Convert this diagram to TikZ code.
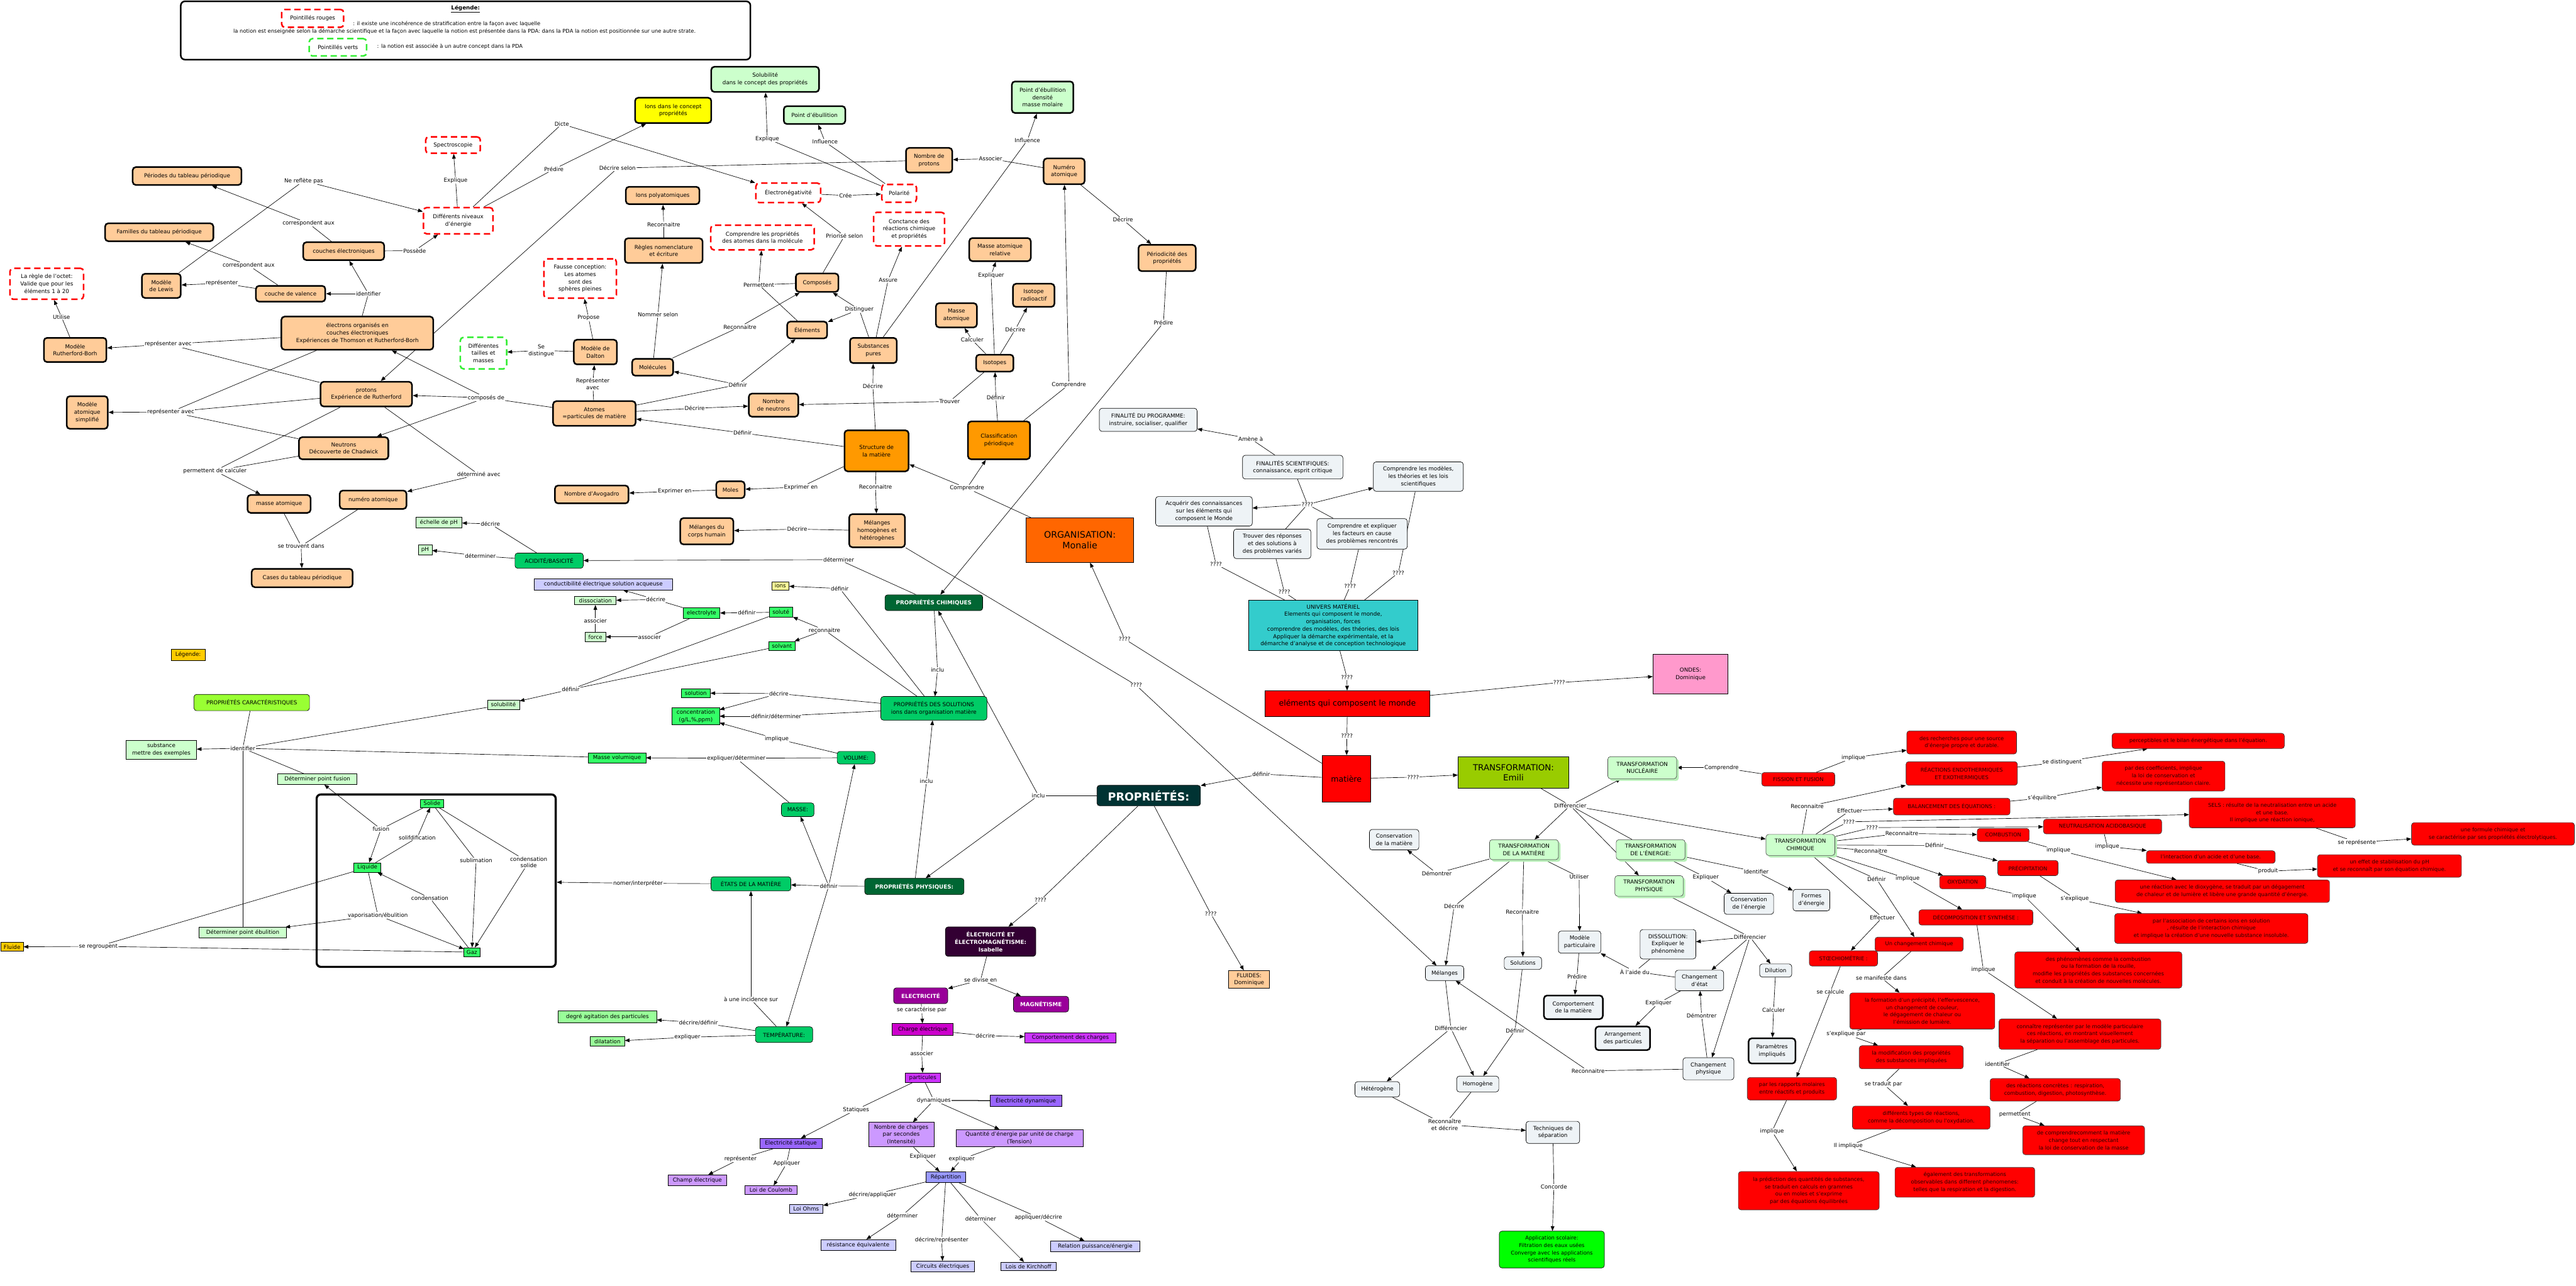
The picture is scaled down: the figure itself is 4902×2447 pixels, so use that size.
\documentclass[tikz,border=0pt]{standalone}
\usepackage{fontspec}
\setmainfont{DejaVu Sans}
\usetikzlibrary{arrows.meta,shadows}
\definecolor{peach}{HTML}{FFCC99}
\definecolor{orangeS}{HTML}{FF9900}
\definecolor{orgc}{HTML}{FF6600}
\definecolor{lgreen}{HTML}{CCFFCC}
\definecolor{shadg}{HTML}{B8F0B8}
\definecolor{vgreen}{HTML}{33FF66}
\definecolor{mgreen}{HTML}{99FF99}
\definecolor{grc}{HTML}{00CC66}
\definecolor{dkg}{HTML}{006633}
\definecolor{propc}{HTML}{003333}
\definecolor{limec}{HTML}{99FF33}
\definecolor{goldc}{HTML}{FFCC00}
\definecolor{yelc}{HTML}{FFFF00}
\definecolor{pyel}{HTML}{FFFF99}
\definecolor{lav}{HTML}{CCCCFF}
\definecolor{tealc}{HTML}{33CCCC}
\definecolor{pinkc}{HTML}{FF99CC}
\definecolor{redc}{HTML}{FF0000}
\definecolor{olivec}{HTML}{99CC00}
\definecolor{grayb}{HTML}{EEF3F6}
\definecolor{appg}{HTML}{00FF00}
\definecolor{elemc}{HTML}{330033}
\definecolor{magc}{HTML}{990099}
\definecolor{chgc}{HTML}{CC00CC}
\definecolor{purpc}{HTML}{CC33FF}
\definecolor{violc}{HTML}{9966FF}
\definecolor{lilac}{HTML}{CC99FF}
\definecolor{peric}{HTML}{9999FF}
\definecolor{dashg}{HTML}{33EE33}
\pgfdeclarelayer{bg}
\pgfsetlayers{bg,main}
\tikzset{
 every node/.style={align=center,font=\fontsize{10.5}{14}\selectfont,inner sep=1.5pt},
 bx/.style 2 args={minimum width=#1,minimum height=#2},
 con/.style={draw=black,line width=3pt,rounded corners=6pt,fill=peach},
 conS/.style={draw=black,line width=3pt,rounded corners=6pt,fill=orangeS},
 rdash/.style={draw=redc,line width=3pt,dash pattern=on 12pt off 7pt,rounded corners=6pt,fill=white},
 gdash/.style={draw=dashg,line width=3pt,dash pattern=on 12pt off 7pt,rounded corners=6pt,fill=white},
 lgk/.style={draw=black,line width=3pt,rounded corners=6pt,fill=lgreen},
 yelk/.style={draw=black,line width=3pt,rounded corners=6pt,fill=yelc},
 sq/.style={draw=black,line width=0.8pt,fill=#1},
 rnd/.style={draw=black,line width=0.8pt,rounded corners=5pt,fill=#1},
 gr/.style={rnd=grc},
 dkgn/.style={rnd=dkg,text=white,font=\bfseries\fontsize{10.5}{14}\selectfont},
 gbx/.style={rnd=grayb},
 gbxk/.style={draw=black,line width=3pt,rounded corners=6pt,fill=grayb},
 tlg/.style={draw=black!70,line width=0.8pt,rounded corners=5pt,fill=lgreen,drop shadow={shadow xshift=4pt,shadow yshift=-4pt,fill=shadg,opacity=1}},
 redb/.style={draw=black!80,line width=0.8pt,rounded corners=5pt,fill=redc,text=black!85!red,font=\fontsize{10}{14}\selectfont},
 magb/.style={rnd=magc,text=white,font=\bfseries\fontsize{10.5}{14}\selectfont},
 lab/.style={fill=white,inner sep=1pt,font=\fontsize{10.5}{13}\selectfont},
 ln/.style={line width=0.8pt},
 ar/.style={line width=0.8pt,-{Triangle[length=9pt,width=7pt]}},
}
\begin{document}
\begin{tikzpicture}[x=1pt,y=-1pt]
\useasboundingbox (0,0) rectangle (4902,2447);

% ---------------- Legend
\node[draw,line width=3pt,rounded corners=8pt,bx={1084}{111},inner sep=0pt] (legbox) at (886,58) {};
\node[font=\bfseries\fontsize{10.5}{13}\selectfont] (legt) at (886,17) {\underline{Légende:}};
\node[rdash,bx={118}{34}] (legr) at (595,35) {Pointillés rouges};
\node[anchor=west,font=\fontsize{10}{13}\selectfont] (legl1) at (670,46) {: il existe une incohérence de stratification entre la façon avec laquelle};
\node[font=\fontsize{10}{13}\selectfont] (legl2) at (884,60) {la notion est enseignée selon la démarche scientifique et la façon avec laquelle la notion est présentée dans la PDA: dans la PDA la notion est positionnée sur une autre strate.};
\node[gdash,bx={109}{33}] (legv) at (643,90) {Pointillés verts};
\node[anchor=west,font=\fontsize{10}{13}\selectfont] (legl3) at (716,89) {: la notion est associée à un autre concept dans la PDA};

% ---------------- Atom cluster (left top)
\node[rdash,bx={104}{31}] (spec) at (862,276) {Spectroscopie};
\node[con,bx={207}{34}] (per) at (356,335) {Périodes du tableau périodique};
\node[rdash,bx={132}{50}] (dne) at (872,420) {Différents niveaux\\d'énergie};
\node[con,bx={206}{34}] (fam) at (303,442) {Familles du tableau périodique};
\node[con,bx={154}{34}] (cel) at (654,478) {couches électroniques};
\node[rdash,bx={140}{59}] (oct) at (89,540) {La règle de l'octet:\\Valide que pour les\\éléments 1 à 20};
\node[con,bx={74}{46}] (lew) at (307,544) {Modèle\\de Lewis};
\node[con,bx={132}{30}] (val) at (553,559) {couche de valence};
\node[con,bx={289}{63}] (eor) at (680,634) {électrons organisés en\\couches électroniques\\Expériences de Thomson et Rutherford-Borh};
\node[con,bx={119}{46}] (mrb) at (143,666) {Modèle\\Rutherford-Borh};
\node[gdash,bx={88}{60}] (dtm) at (920,672) {Différentes\\tailles et\\masses};
\node[con,bx={174}{47}] (pro) at (697,750) {protons\\Expérience de Rutherford};
\node[con,bx={78}{62}] (mas) at (166,785) {Modèle\\atomique\\simplifié};
\node[con,bx={170}{42}] (neu) at (654,853) {Neutrons\\Découverte de Chadwick};
\node[con,bx={120}{34}] (mat) at (531,959) {masse atomique};
\node[con,bx={127}{35}] (nat) at (710,951) {numéro atomique};
\node[con,bx={192}{35}] (cas) at (575,1100) {Cases du tableau périodique};

\node[lab] (l_expl1) at (867,343) {Explique};
\node[lab] (l_nrp) at (578,344) {Ne reflète pas};
\node[lab] (l_corr1) at (587,425) {correspondent aux};
\node[lab] (l_poss) at (789,477) {Possède};
\node[lab] (l_corr2) at (473,505) {correspondent aux};
\node[lab] (l_repr) at (422,539) {représenter};
\node[lab] (l_ident) at (701,559) {identifier};
\node[lab] (l_util) at (117,603) {Utilise};
\node[lab] (l_ravec1) at (320,655) {représenter avec};
\node[lab] (l_compde) at (925,757) {composés de};
\node[lab] (l_ravec2) at (325,784) {représenter avec};
\node[lab] (l_pdc) at (409,896) {permettent de calculer};
\node[lab] (l_detav) at (911,903) {déterminé avec};
\node[lab] (l_stdans) at (573,1039) {se trouvent dans};

% ---------------- Middle top
\node[lgk,bx={205}{48}] (solub) at (1456,151) {Solubilité\\dans le concept des propriétés};
\node[yelk,bx={145}{48}] (ions1) at (1281,210) {Ions dans le concept\\propriétés};
\node[lgk,bx={117}{34}] (pe) at (1550,219) {Point d'ébullition};
\node[lgk,bx={117}{60}] (ped) at (1984,185) {Point d'ébullition\\densité\\masse molaire};
\node[con,bx={88}{47}] (nbp) at (1768,305) {Nombre de\\protons};
\node[con,bx={78}{49}] (numat) at (2025,326) {Numéro\\atomique};
\node[con,bx={140}{33}] (ipoly) at (1261,372) {Ions polyatomiques};
\node[rdash,bx={123}{37}] (eneg) at (1500,367) {Électronégativité};
\node[rdash,bx={66}{34}] (pol) at (1711,368) {Polarité};
\node[rdash,bx={197}{47}] (cpam) at (1451,452) {Comprendre les propriétés\\des atomes dans la molécule};
\node[rdash,bx={135}{64}] (conct) at (1730,436) {Conctance des\\réactions chimique\\et propriétés};
\node[con,bx={148}{47}] (regles) at (1263,477) {Règles nomenclature\\et écriture};
\node[con,bx={117}{44}] (mar) at (1903,475) {Masse atomique\\relative};
\node[rdash,bx={138}{75}] (fc) at (1104,530) {Fausse conception:\\Les atomes\\sont des\\sphères pleines};
\node[con,bx={79}{44}] (irad) at (1967,562) {Isotope\\radioactif};
\node[con,bx={81}{35}] (comp) at (1555,538) {Composés};
\node[con,bx={78}{46}] (mato) at (1820,600) {Masse\\atomique};
\node[con,bx={76}{32}] (elem) at (1536,628) {Éléments};
\node[con,bx={89}{48}] (spure) at (1662,667) {Substances\\pures};
\node[con,bx={71}{32}] (isot) at (1893,691) {Isotopes};
\node[con,bx={82}{47}] (dalton) at (1133,670) {Modèle de\\Dalton};
\node[con,bx={78}{32}] (molec) at (1242,699) {Molécules};
\node[con,bx={157}{47}] (atomes) at (1131,787) {Atomes\\=particules de matière};
\node[con,bx={94}{44}] (nbn) at (1472,771) {Nombre\\de neutrons};
\node[conS,bx={122}{78}] (struct) at (1668,858) {Structure de\\la matière};
\node[conS,bx={118}{72}] (classif) at (1901,838) {Classification\\périodique};
\node[con,bx={109}{50}] (period) at (2221,491) {Périodicité des\\propriétés};

\node[lab] (l_dicte) at (1069,236) {Dicte};
\node[lab] (l_predire1) at (1054,322) {Prédire};
\node[lab] (l_decsel) at (1175,320) {Décrire selon};
\node[lab] (l_expl2) at (1460,264) {Explique};
\node[lab] (l_infl1) at (1570,270) {Influence};
\node[lab] (l_assoc) at (1885,302) {Associer};
\node[lab] (l_infl2) at (1955,267) {Influence};
\node[lab] (l_cree) at (1609,372) {Crée};
\node[lab] (l_reco1) at (1263,427) {Reconnaitre};
\node[lab] (l_prio) at (1607,449) {Priorisé selon};
\node[lab] (l_perm) at (1444,542) {Permettent};
\node[lab] (l_assure) at (1690,533) {Assure};
\node[lab] (l_expl3) at (1886,524) {Expliquer};
\node[lab] (l_nommer) at (1252,599) {Nommer selon};
\node[lab] (l_dist) at (1635,589) {Distinguer};
\node[lab] (l_reco2) at (1408,622) {Reconnaitre};
\node[lab] (l_calc) at (1850,647) {Calculer};
\node[lab] (l_decr1) at (1932,627) {Décrire};
\node[lab] (l_propose) at (1120,605) {Propose};
\node[lab] (l_sedist) at (1030,667) {Se\\distingue};
\node[lab] (l_repavec) at (1128,731) {Représenter\\avec};
\node[lab] (l_def1) at (1404,732) {Définir};
\node[lab] (l_decr2) at (1322,777) {Décrire};
\node[lab] (l_decr3) at (1661,735) {Décrire};
\node[lab] (l_trouver) at (1807,764) {Trouver};
\node[lab] (l_def2) at (1895,757) {Définir};
\node[lab] (l_compr1) at (2034,732) {Comprendre};
\node[lab] (l_def3) at (1413,824) {Définir};
\node[lab] (l_decr4) at (2137,418) {Décrire};
\node[lab] (l_predire2) at (2214,614) {Prédire};

% ---------------- Middle
\node[con,bx={54}{32}] (moles) at (1390,932) {Moles};
\node[con,bx={140}{34}] (avog) at (1126,941) {Nombre d'Avogadro};
\node[con,bx={106}{63}] (mhh) at (1669,1010) {Mélanges\\homogènes et\\hétérogènes};
\node[con,bx={101}{50}] (mch) at (1345,1011) {Mélanges du\\corps humain};
\node[sq=orgc,bx={205}{85},font=\fontsize{17}{21}\selectfont] (org) at (2055,1028) {ORGANISATION:\\Monalie};
\node[sq=lav,bx={263}{21}] (cond) at (1148,1112) {conductibilité électrique solution acqueuse};
\node[sq=lgreen,bx={79}{16}] (dissoc) at (1133,1143) {dissociation};
\node[sq=vgreen,bx={70}{20}] (electro) at (1335,1167) {electrolyte};
\node[sq=vgreen,bx={45}{19}] (solute) at (1486,1165) {soluté};
\node[sq=lgreen,bx={39}{17}] (force) at (1133,1212) {force};
\node[sq=vgreen,bx={51}{17}] (solvant) at (1488,1229) {solvant};
\node[sq=pyel,bx={33}{16}] (ions2) at (1485,1115) {ions};
\node[dkgn,bx={186}{30}] (pchim) at (1777,1147) {PROPRIÉTÉS CHIMIQUES};
\node[sq=vgreen,bx={55}{17}] (solution) at (1324,1319) {solution};
\node[sq=vgreen,bx={90}{33}] (concent) at (1324,1363) {concentration\\(g/L,\%,ppm)};
\node[gr,bx={202}{45}] (psol) at (1777,1348) {PROPRIÉTÉS DES SOLUTIONS\\ions dans organisation matière};
\node[sq=vgreen,bx={110}{19}] (mvol) at (1174,1442) {Masse volumique};
\node[gr,bx={72}{24}] (volume) at (1629,1442) {VOLUME:};
\node[gr,bx={130}{29}] (acid) at (1045,1067) {ACIDITÉ/BASICITÉ};
\node[sq=lgreen,bx={88}{20}] (echph) at (835,994) {échelle de pH};
\node[sq=lgreen,bx={26}{19}] (ph) at (809,1046) {pH};

\node[lab] (l_expen1) at (1524,927) {Exprimer en};
\node[lab] (l_expen2) at (1284,935) {Exprimer en};
\node[lab] (l_reco3) at (1666,927) {Reconnaitre};
\node[lab] (l_compr2) at (1840,929) {Comprendre};
\node[lab] (l_decr5) at (1517,1007) {Décrire};
\node[lab] (l_det1) at (1596,1065) {déterminer};
\node[lab] (l_def4) at (1598,1120) {définir};
\node[lab] (l_decr6) at (1248,1141) {décrire};
\node[lab] (l_def5) at (1421,1166) {définir};
\node[lab] (l_assoc2) at (1133,1182) {associer};
\node[lab] (l_assoc3) at (1236,1212) {associer};
\node[lab] (l_reco4) at (1569,1199) {reconnaitre};
\node[lab] (l_def6) at (1086,1312) {définir};
\node[lab] (l_decr7) at (1482,1320) {décrire};
\node[lab] (l_defdet) at (1477,1363) {définir/déterminer};
\node[lab] (l_impl1) at (1478,1406) {implique};
\node[lab] (l_expdet) at (1401,1443) {expliquer/déterminer};
\node[lab] (l_inclu1) at (1784,1275) {inclu};
\node[lab] (l_decr8) at (933,997) {décrire};
\node[lab] (l_det2) at (914,1058) {déterminer};

% ---------------- Left lower: properties, states box
\node[draw,line width=4pt,rounded corners=8pt,bx={455}{328},inner sep=0pt] (bigbox) at (830,1676) {};
\node[sq=vgreen,bx={45}{16}] (solide) at (822,1529) {Solide};
\node[sq=vgreen,bx={52}{18}] (liquide) at (699,1651) {Liquide};
\node[sq=vgreen,bx={30}{17}] (gaz) at (898,1812) {Gaz};
\node[sq=lgreen,bx={167}{20}] (dpe) at (462,1775) {Déterminer point ébulition};
\node[sq=lgreen,bx={151}{20}] (dpf) at (604,1483) {Déterminer point fusion};
\node[sq=goldc,bx={43}{17}] (fluide) at (23,1802) {Fluide};
\node[sq=lgreen,bx={134}{35}] (subst) at (307,1427) {substance\\mettre des exemples};
\node[rnd=limec,bx={220}{31}] (pcar) at (479,1337) {PROPRIÉTÉS CARACTÉRISTIQUES};
\node[sq=lgreen,bx={61}{18}] (solubilite) at (958,1341) {solubilité};
\node[sq=goldc,bx={65}{22}] (legende2) at (358,1246) {Légende:};

\node[lab] (l_fusion) at (725,1578) {fusion};
\node[lab] (l_solid) at (794,1594) {solifdification};
\node[lab] (l_subl) at (906,1638) {sublimation};
\node[lab] (l_condsol) at (1006,1641) {condensation\\solide};
\node[lab] (l_cond) at (818,1709) {condensation};
\node[lab] (l_vapo) at (719,1742) {vaporisation/ébulition};
\node[lab] (l_regr) at (187,1801) {se regroupent};
\node[lab] (l_identif) at (462,1424) {identifier};

% ---------------- Physical properties
\node[gr,bx={62}{26}] (masse) at (1518,1541) {MASSE:};
\node[gr,bx={152}{27}] (etats) at (1429,1682) {ÉTATS DE LA MATIÈRE};
\node[dkgn,bx={189}{31}] (pphys) at (1740,1687) {PROPRIÉTÉS PHYSIQUES:};
\node[rnd=propc,bx={197}{39},text=white,font=\bfseries\fontsize{21}{24}\selectfont] (props) at (2186,1514) {PROPRIÉTÉS:};
\node[rnd=elemc,bx={172}{56},text=white,font=\bfseries\fontsize{10.5}{14}\selectfont] (elecem) at (1885,1792) {ÉLECTRICITÉ ET\\ÉLECTROMAGNÉTISME:\\Isabelle};
\node[magb,bx={103}{30}] (elec) at (1752,1895) {ELECTRICITÉ};
\node[magb,bx={105}{30}] (magn) at (1981,1911) {MAGNÉTISME};
\node[sq=chgc,bx={116}{22}] (charge) at (1756,1959) {Charge électrique};
\node[sq=purpc,bx={174}{20}] (compch) at (2037,1975) {Comportement des charges};
\node[gr,bx={109}{30}] (temp) at (1492,1969) {TEMPÉRATURE:};
\node[sq=mgreen,bx={187}{22}] (degre) at (1156,1935) {degré agitation des particules};
\node[sq=mgreen,bx={65}{18}] (dilat) at (1156,1982) {dilatation};
\node[sq=peach,bx={78}{34}] (fluides) at (2377,1864) {FLUIDES:\\Dominique};

\node[lab] (l_inclu2) at (1763,1487) {inclu};
\node[lab] (l_inclu3) at (1976,1514) {inclu};
\node[lab] (l_nomint) at (1214,1681) {nomer/interpréter};
\node[lab] (l_def7) at (1577,1686) {définir};
\node[lab] (l_incid) at (1429,1902) {à une incidence sur};
\node[lab] (l_decdef) at (1329,1946) {décrire/définir};
\node[lab] (l_expliq) at (1308,1974) {expliquer};
\node[lab] (l_q1) at (1980,1713) {????};
\node[lab] (l_q2) at (2304,1739) {????};
\node[lab] (l_divise) at (1866,1865) {se divise en};
\node[lab] (l_caract) at (1754,1922) {se caractérise par};
\node[lab] (l_decr9) at (1875,1971) {décrire};
\node[lab] (l_def8) at (2400,1473) {définir};

% ---------------- Electricity
\node[sq=purpc,bx={67}{18}] (partic) at (1756,2051) {particules};
\node[sq=violc,bx={136}{21}] (edyn) at (1952,2095) {Électricité dynamique};
\node[sq=violc,bx={118}{19}] (estat) at (1505,2176) {Electricité statique};
\node[sq=lilac,bx={124}{46}] (nbch) at (1715,2159) {Nombre de charges\\par secondes\\(Intensité)};
\node[sq=lilac,bx={242}{33}] (quant) at (1940,2166) {Quantité d'énergie par unité de charge\\(Tension)};
\node[sq=peric,bx={75}{20}] (repart) at (1800,2240) {Répartition};
\node[sq=lilac,bx={112}{20}] (champ) at (1327,2246) {Champ électrique};
\node[sq=lilac,bx={100}{17}] (coul) at (1467,2265) {Loi de Coulomb};
\node[sq=lav,bx={64}{17}] (ohm) at (1534,2301) {Loi Ohms};
\node[sq=lav,bx={142}{20}] (resist) at (1633,2369) {résistance équivalente};
\node[sq=lav,bx={121}{20}] (circ) at (1794,2410) {Circuits électriques};
\node[sq=lav,bx={106}{16}] (kirch) at (1957,2410) {Lois de Kirchhoff};
\node[sq=lav,bx={169}{20}] (relpe) at (2084,2372) {Relation puissance/énergie};

\node[lab] (l_assoc4) at (1754,2005) {associer};
\node[lab] (l_dyn) at (1777,2094) {dynamiques};
\node[lab] (l_stat) at (1629,2112) {Statiques};
\node[lab] (l_expl6) at (1756,2201) {Expliquer};
\node[lab] (l_expl7) at (1830,2206) {expliquer};
\node[lab] (l_repr2) at (1409,2205) {représenter};
\node[lab] (l_appl) at (1497,2214) {Appliquer};
\node[lab] (l_decapp) at (1660,2274) {décrire/appliquer};
\node[lab] (l_det3) at (1717,2313) {déterminer};
\node[lab] (l_decrep) at (1792,2360) {décrire/représenter};
\node[lab] (l_det4) at (1866,2319) {déterminer};
\node[lab] (l_appdec) at (1976,2317) {appliquer/décrire};

% ---------------- Finalities
\node[gbx,bx={186}{44}] (fprog) at (2185,799) {FINALITÉ DU PROGRAMME:\\instruire, socialiser, qualifier};
\node[gbx,bx={191}{45}] (fsci) at (2460,889) {FINALITÉS SCIENTIFIQUES:\\connaissance, esprit critique};
\node[gbx,bx={171}{56}] (cmod) at (2699,907) {Comprendre les modèles,\\les théories et les lois\\scientifiques};
\node[gbx,bx={184}{56}] (acq) at (2291,973) {Acquérir des connaissances\\sur les éléments qui\\composent le Monde};
\node[gbx,bx={147}{56}] (trouv) at (2421,1035) {Trouver des réponses\\et des solutions à\\des problèmes variés};
\node[gbx,bx={172}{58}] (cexp) at (2592,1016) {Comprendre et expliquer\\les facteurs en cause\\des problèmes rencontrés};
\node[sq=tealc,bx={321}{95}] (univ) at (2537,1190) {UNIVERS MATÉRIEL\\Elements qui composent le monde,\\organisation, forces\\comprendre des modèles, des théories, des lois\\Appliquer la démarche expérimentale, et la\\démarche d'analyse et de conception technologique};
\node[sq=pinkc,bx={143}{76}] (ondes) at (3217,1283) {ONDES:\\Dominique};
\node[sq=redc,bx={314}{49},font=\fontsize{15}{18}\selectfont] (emonde) at (2564,1339) {eléments qui composent le monde};
\node[sq=redc,bx={93}{89},font=\fontsize{15}{18}\selectfont] (matiere) at (2562,1482) {matière};

\node[lab] (l_amene) at (2380,835) {Amène à};
\node[lab] (l_q3) at (2488,960) {????};
\node[lab] (l_q4) at (2314,1074) {????};
\node[lab] (l_q5) at (2444,1127) {????};
\node[lab] (l_q6) at (2569,1116) {????};
\node[lab] (l_q7) at (2661,1090) {????};
\node[lab] (l_q8) at (2563,1289) {????};
\node[lab] (l_q9) at (2967,1299) {????};
\node[lab] (l_q10) at (2563,1401) {????};
\node[lab] (l_q11) at (2140,1216) {????};
\node[lab] (l_q12) at (2162,1304) {????};
\node[lab] (l_q13) at (2689,1479) {????};

% ---------------- Transformation
\node[sq=olivec,bx={211}{59},font=\fontsize{16}{19}\selectfont] (transf) at (2880,1470) {TRANSFORMATION:\\Emili};
\node[tlg,bx={131}{42}] (tnuc) at (3125,1461) {TRANSFORMATION\\NUCLÉAIRE};
\node[redb,bx={139}{26}] (fiss) at (3422,1483) {FISSION ET FUSION};
\node[gbx,bx={94}{39}] (consm) at (2653,1598) {Conservation\\de la matière};
\node[tlg,bx={131}{38}] (tmat) at (2900,1617) {TRANSFORMATION\\DE LA MATIÈRE};
\node[tlg,bx={131}{38}] (tener) at (3141,1617) {TRANSFORMATION\\DE L'ÉNERGIE:};
\node[tlg,bx={131}{40}] (tchim) at (3426,1608) {TRANSFORMATION\\CHIMIQUE};
\node[tlg,bx={130}{39}] (tphys) at (3138,1686) {TRANSFORMATION\\PHYSIQUE};
\node[gbx,bx={81}{42}] (modp) at (3006,1793) {Modèle\\particulaire};
\node[gbx,bx={106}{56}] (dissol) at (3174,1797) {DISSOLUTION:\\Expliquer le\\phénomène};
\node[gbx,bx={70}{41}] (formes) at (3447,1713) {Formes\\d'énergie};
\node[gbx,bx={94}{40}] (conse) at (3328,1720) {Conservation\\de l'énergie};
\node[gbx,bx={71}{24}] (solutions) at (2898,1833) {Solutions};
\node[gbx,bx={73}{28}] (melanges) at (2749,1852) {Mélanges};
\node[gbx,bx={61}{25}] (dilution) at (3379,1847) {Dilution};
\node[gbx,bx={92}{39}] (chetat) at (3234,1866) {Changement\\d'état};
\node[gbxk,bx={112}{45}] (compm) at (2994,1917) {Comportement\\de la matière};
\node[gbxk,bx={104}{45}] (arrang) at (3088,1976) {Arrangement\\des particules};
\node[gbxk,bx={89}{48}] (param) at (3372,2000) {Paramètres\\impliqués};
\node[gbx,bx={97}{42}] (chphys) at (3251,2034) {Changement\\physique};
\node[gbx,bx={85}{29}] (hetero) at (2621,2073) {Hétérogène};
\node[gbx,bx={80}{30}] (homo) at (2812,2063) {Homogène};
\node[gbx,bx={102}{42}] (techn) at (2955,2155) {Techniques de\\séparation};
\node[rnd=appg,bx={200}{70},font=\fontsize{10}{14}\selectfont] (appl) at (2953,2378) {Application scolaire:\\Filtration des eaux usées\\Converge avec les applications\\scientifiques réels};

\node[redb,bx={170}{43}] (rapm) at (3410,2072) {par les rapports molaires\\entre réactifs et produits};
\node[redb,bx={268}{73}] (pred) at (3442,2266) {la prédiction des quantités de substances,\\se traduit en calculs en grammes\\ou en moles et s'exprime\\par des équations équilibrées};
\node[redb,bx={130}{29}] (stoe) at (3508,1824) {STŒCHIOMÉTRIE :};
\node[redb,bx={168}{27}] (uchg) at (3652,1797) {Un changement chimique};
\node[redb,bx={276}{69}] (fprec) at (3658,1924) {la formation d'un précipité, l'effervescence,\\un changement de couleur,\\le dégagement de chaleur ou\\l'émission de lumière.};
\node[redb,bx={198}{44}] (modif) at (3637,2012) {la modification des propriétés\\des substances impliquées};
\node[redb,bx={262}{44}] (difft) at (3656,2127) {différents types de réactions,\\comme la décomposition ou l'oxydation.};
\node[redb,bx={266}{57}] (egal) at (3739,2250) {également des transformations\\observables dans different phenomenes:\\telles que la respiration et la digestion.};
\node[redb,bx={308}{58}] (connr) at (3958,1968) {connaître représenter par le modèle particulaire\\ces réactions, en montrant visuellement\\la séparation ou l'assemblage des particules.};
\node[redb,bx={248}{43}] (reacc) at (3911,2074) {des réactions concrètes : respiration,\\combustion, digestion, photosynthèse.};
\node[redb,bx={232}{55}] (decomp2) at (3965,2170) {de comprendrecomment la matière\\change tout en respectant\\la loi de conservation de la masse};
\node[redb,bx={209}{44}] (rech) at (3733,1413) {des recherches pour une source\\d'énergie propre et durable.};
\node[redb,bx={328}{29}] (percep) at (4183,1410) {perceptibles et le bilan énergétique dans l'équation.};
\node[redb,bx={212}{45}] (rendo) at (3733,1472) {RÉACTIONS ENDOTHERMIQUES\\ET EXOTHERMIQUES};
\node[redb,bx={234}{57}] (coef) at (4117,1477) {par des coefficients, implique\\la loi de conservation et\\nécessite une représentation claire.};
\node[redb,bx={222}{32}] (balan) at (3714,1535) {BALANCEMENT DES ÉQUATIONS :};
\node[redb,bx={316}{57}] (sels) at (4324,1547) {SELS : résulte de la neutralisation entre un acide\\et une base.\\Il implique une réaction ionique,};
\node[redb,bx={225}{28}] (neutr) at (4001,1573) {NEUTRALISATION ACIDOBASIQUE};
\node[redb,bx={99}{25}] (combu) at (3812,1589) {COMBUSTION};
\node[redb,bx={310}{43}] (formc) at (4744,1587) {une formule chimique et\\se caractérise par ses propriétés électrolytiques.};
\node[redb,bx={115}{29}] (preci) at (3859,1652) {PRÉCIPITATION};
\node[redb,bx={245}{24}] (inter) at (4207,1631) {l'interaction d'un acide et d'une base.};
\node[redb,bx={274}{43}] (effet) at (4547,1648) {un effet de stabilisation du pH\\et se reconnaît par son équation chimique.};
\node[redb,bx={88}{25}] (oxyd) at (3735,1679) {OXYDATION};
\node[redb,bx={408}{43}] (reacd) at (4229,1696) {une réaction avec le dioxygène, se traduit par un dégagement\\de chaleur et de lumière et libère une grande quantité d'énergie.};
\node[redb,bx={217}{29}] (decsyn) at (3760,1746) {DÉCOMPOSITION ET SYNTHÈSE :};
\node[redb,bx={368}{57}] (assoc) at (4208,1767) {par l'association de certains ions en solution\\, résulte de l'interaction chimique\\et implique la création d'une nouvelle substance insoluble.};
\node[redb,bx={318}{69}] (phen) at (3993,1846) {des phénomènes comme la combustion\\ou la formation de la rouille,\\modifie les propriétés des substances concernées\\et conduit à la création de nouvelles molécules.};

\node[lab] (l_compr3) at (3276,1461) {Comprendre};
\node[lab] (l_impl2) at (3527,1442) {implique};
\node[lab] (l_diff1) at (2988,1533) {Différencier};
\node[lab] (l_demo1) at (2734,1662) {Démontrer};
\node[lab] (l_util2) at (3005,1669) {Utiliser};
\node[lab] (l_decr10) at (2767,1725) {Décrire};
\node[lab] (l_reco5) at (2897,1735) {Reconnaitre};
\node[lab] (l_expl4) at (3246,1670) {Expliquer};
\node[lab] (l_ident2) at (3342,1659) {Identifier};
\node[lab] (l_diff2) at (3330,1783) {Différencier};
\node[lab] (l_aide) at (3111,1849) {À l'aide du};
\node[lab] (l_pred3) at (3001,1859) {Prédire};
\node[lab] (l_expl5) at (3156,1909) {Expliquer};
\node[lab] (l_demo2) at (3238,1933) {Démontrer};
\node[lab] (l_calc2) at (3375,1922) {Calculer};
\node[lab] (l_diff3) at (2761,1957) {Différencier};
\node[lab] (l_def9) at (2883,1961) {Définir};
\node[lab] (l_reco6) at (3022,2038) {Reconnaitre};
\node[lab] (l_recod) at (2749,2140) {Reconnaître\\et décrire};
\node[lab] (l_conc) at (2957,2259) {Concorde};
\node[lab] (l_impl3) at (3372,2153) {implique};
\node[lab] (l_sedist2) at (3924,1450) {se distinguent};
\node[lab] (l_sequi) at (3886,1519) {s'équilibre};
\node[lab] (l_reco7) at (3439,1535) {Reconnaitre};
\node[lab] (l_effe1) at (3520,1543) {Effectuer};
\node[lab] (l_q14) at (3518,1564) {????};
\node[lab] (l_q15) at (3562,1575) {????};
\node[lab] (l_reco8) at (3619,1586) {Reconnaitre};
\node[lab] (l_def10) at (3681,1609) {Définir};
\node[lab] (l_reco9) at (3560,1619) {Reconnaitre};
\node[lab] (l_impl4) at (4010,1611) {implique};
\node[lab] (l_impl5) at (3917,1618) {implique};
\node[lab] (l_serep) at (4485,1603) {se représente};
\node[lab] (l_prod) at (4316,1658) {produit};
\node[lab] (l_def11) at (3571,1673) {Définir};
\node[lab] (l_impl6) at (3630,1672) {implique};
\node[lab] (l_impl7) at (3852,1705) {implique};
\node[lab] (l_sexp) at (3948,1710) {s'explique};
\node[lab] (l_effe2) at (3582,1746) {Effectuer};
\node[lab] (l_impl8) at (3774,1845) {implique};
\node[lab] (l_manif) at (3580,1861) {se manifeste dans};
\node[lab] (l_secalc) at (3483,1887) {se calcule};
\node[lab] (l_sexpp) at (3513,1968) {s'explique par};
\node[lab] (l_ident4) at (3801,2025) {identifier};
\node[lab] (l_setrad) at (3584,2063) {se traduit par};
\node[lab] (l_permet) at (3834,2121) {permettent};
\node[lab] (l_ilimp) at (3517,2181) {Il implique};

% ================= Connectors
\begin{pgfonlayer}{bg}
\fill[white] (0,0) rectangle (4902,2447);
% atom cluster
\draw[ln] (dne) -- (l_expl1); \draw[ar] (l_expl1) -- (spec);
\draw[ln] (lew) -- (l_nrp); \draw[ar] (l_nrp) -- (dne);
\draw[ln] (cel) -- (l_corr1); \draw[ar] (l_corr1) -- (per);
\draw[ln] (cel) -- (l_poss); \draw[ar] (l_poss) -- (dne);
\draw[ln] (val) -- (l_corr2); \draw[ar] (l_corr2) -- (fam);
\draw[ln] (val) -- (l_repr); \draw[ar] (l_repr) -- (lew);
\draw[ln] (eor) -- (l_ident); \draw[ar] (l_ident) -- (val); \draw[ar] (l_ident) -- (cel);
\draw[ln] (mrb) -- (l_util); \draw[ar] (l_util) -- (oct);
\draw[ln] (eor) -- (l_ravec1); \draw[ln] (pro) -- (l_ravec1); \draw[ar] (l_ravec1) -- (mrb);
\draw[ln] (eor) -- (l_ravec2); \draw[ln] (pro) -- (l_ravec2); \draw[ln] (neu) -- (l_ravec2); \draw[ar] (l_ravec2) -- (mas);
\draw[ln] (atomes) -- (l_compde); \draw[ar] (l_compde) -- (pro); \draw[ar] (l_compde) -- (eor); \draw[ar] (l_compde) -- (neu);
\draw[ln] (pro) -- (l_pdc); \draw[ln] (neu) -- (l_pdc); \draw[ar] (l_pdc) -- (mat);
\draw[ln] (pro) -- (l_detav); \draw[ar] (l_detav) -- (nat);
\draw[ln] (mat) -- (l_stdans); \draw[ln] (nat) -- (l_stdans); \draw[ar] (l_stdans) -- (cas);
% middle top
\draw[ln] (dne) -- (l_dicte); \draw[ar] (l_dicte) -- (eneg);
\draw[ln] (dne) -- (l_predire1); \draw[ar] (l_predire1) -- (ions1);
\draw[ln] (nbp) -- (l_decsel); \draw[ar] (l_decsel) -- (pro);
\draw[ln] (pol) -- (l_expl2); \draw[ar] (l_expl2) -- (solub);
\draw[ln] (pol) -- (l_infl1); \draw[ar] (l_infl1) -- (pe);
\draw[ln] (numat) -- (l_assoc); \draw[ar] (l_assoc) -- (nbp);
\draw[ln] (spure) -- (l_infl2); \draw[ar] (l_infl2) -- (ped);
\draw[ln] (eneg) -- (l_cree); \draw[ar] (l_cree) -- (pol);
\draw[ln] (regles) -- (l_reco1); \draw[ar] (l_reco1) -- (ipoly);
\draw[ln] (comp) -- (l_prio); \draw[ar] (l_prio) -- (eneg);
\draw[ln] (comp) -- (l_perm); \draw[ln] (elem) -- (l_perm); \draw[ar] (l_perm) -- (cpam);
\draw[ln] (spure) -- (l_assure); \draw[ar] (l_assure) -- (conct);
\draw[ln] (isot) -- (l_expl3); \draw[ar] (l_expl3) -- (mar);
\draw[ln] (molec) -- (l_nommer); \draw[ar] (l_nommer) -- (regles);
\draw[ln] (spure) -- (l_dist); \draw[ar] (l_dist) -- (comp); \draw[ar] (l_dist) -- (elem);
\draw[ln] (molec) -- (l_reco2); \draw[ar] (l_reco2) -- (comp);
\draw[ln] (isot) -- (l_calc); \draw[ar] (l_calc) -- (mato);
\draw[ln] (isot) -- (l_decr1); \draw[ar] (l_decr1) -- (irad);
\draw[ln] (dalton) -- (l_propose); \draw[ar] (l_propose) -- (fc);
\draw[ln] (dalton) -- (l_sedist); \draw[ar] (l_sedist) -- (dtm);
\draw[ln] (atomes) -- (l_repavec); \draw[ar] (l_repavec) -- (dalton);
\draw[ln] (atomes) -- (l_def1); \draw[ar] (l_def1) -- (molec); \draw[ar] (l_def1) -- (elem);
\draw[ln] (atomes) -- (l_decr2); \draw[ar] (l_decr2) -- (nbn);
\draw[ln] (struct) -- (l_decr3); \draw[ar] (l_decr3) -- (spure);
\draw[ln] (isot) -- (l_trouver); \draw[ar] (l_trouver) -- (nbn);
\draw[ln] (classif) -- (l_def2); \draw[ar] (l_def2) -- (isot);
\draw[ln] (classif) -- (l_compr1); \draw[ar] (l_compr1) -- (numat);
\draw[ln] (struct) -- (l_def3); \draw[ar] (l_def3) -- (atomes);
\draw[ln] (numat) -- (l_decr4); \draw[ar] (l_decr4) -- (period);
\draw[ln] (period) -- (l_predire2); \draw[ar] (l_predire2) -- (pchim);
% middle
\draw[ln] (struct) -- (l_expen1); \draw[ar] (l_expen1) -- (moles);
\draw[ln] (moles) -- (l_expen2); \draw[ar] (l_expen2) -- (avog);
\draw[ln] (struct) -- (l_reco3); \draw[ar] (l_reco3) -- (mhh);
\draw[ln] (org) -- (l_compr2); \draw[ar] (l_compr2) -- (struct); \draw[ar] (l_compr2) -- (classif);
\draw[ln] (mhh) -- (l_decr5); \draw[ar] (l_decr5) -- (mch);
\draw[ln] (pchim) -- (l_det1); \draw[ar] (l_det1) -- (acid);
\draw[ln] (psol) -- (l_def4); \draw[ar] (l_def4) -- (ions2);
\draw[ln] (electro) -- (l_decr6); \draw[ar] (l_decr6) -- (cond); \draw[ar] (l_decr6) -- (dissoc);
\draw[ln] (solute) -- (l_def5); \draw[ar] (l_def5) -- (electro);
\draw[ln] (force) -- (l_assoc2); \draw[ar] (l_assoc2) -- (dissoc);
\draw[ln] (electro) -- (l_assoc3); \draw[ar] (l_assoc3) -- (force);
\draw[ln] (psol) -- (l_reco4); \draw[ar] (l_reco4) -- (solute); \draw[ar] (l_reco4) -- (solvant);
\draw[ln] (solute) -- (l_def6); \draw[ln] (solvant) -- (l_def6); \draw[ar] (l_def6) -- (solubilite);
\draw[ln] (psol) -- (l_decr7); \draw[ar] (l_decr7) -- (solution); \draw[ar] (l_decr7) -- (concent);
\draw[ln] (psol) -- (l_defdet); \draw[ar] (l_defdet) -- (concent);
\draw[ln] (volume) -- (l_impl1); \draw[ar] (l_impl1) -- (concent);
\draw[ln] (volume) -- (l_expdet); \draw[ar] (l_expdet) -- (mvol);
\draw[ln] (masse) -- (l_expdet);
\draw[ln] (pchim) -- (l_inclu1); \draw[ar] (l_inclu1) -- (psol);
\draw[ln] (acid) -- (l_decr8); \draw[ar] (l_decr8) -- (echph);
\draw[ln] (acid) -- (l_det2); \draw[ar] (l_det2) -- (ph);
% states
\draw[ln] (solide) -- (l_fusion); \draw[ar] (l_fusion) -- (liquide); \draw[ar] (l_fusion) -- (dpf);
\draw[ln] (liquide) -- (l_solid); \draw[ar] (l_solid) -- (solide);
\draw[ln] (solide) -- (l_subl); \draw[ar] (l_subl) -- (gaz);
\draw[ln] (solide) -- (l_condsol); \draw[ar] (l_condsol) -- (gaz);
\draw[ln] (gaz) -- (l_cond); \draw[ar] (l_cond) -- (liquide);
\draw[ln] (liquide) -- (l_vapo); \draw[ar] (l_vapo) -- (gaz); \draw[ar] (l_vapo) -- (dpe);
\draw[ln] (liquide) -- (l_regr); \draw[ln] (gaz) -- (l_regr); \draw[ar] (l_regr) -- (fluide);
\draw[ln] (pcar) -- (l_identif); \draw[ar] (l_identif) -- (subst); \draw[ln] (l_identif) -- (solubilite);
\draw[ln] (l_identif) -- (mvol); \draw[ln] (l_identif) -- (dpf); \draw[ln] (l_identif) -- (dpe);
% physical properties
\draw[ln] (pphys) -- (l_inclu2); \draw[ar] (l_inclu2) -- (psol);
\draw[ln] (props) -- (l_inclu3); \draw[ar] (l_inclu3) -- (pphys); \draw[ar] (l_inclu3) -- (pchim);
\draw[ln] (etats) -- (l_nomint); \draw[ar] (l_nomint) -- (bigbox);
\draw[ln] (pphys) -- (l_def7); \draw[ar] (l_def7) -- (etats); \draw[ar] (l_def7) -- (masse); \draw[ar] (l_def7) -- (temp); \draw[ar] (l_def7) -- (volume);
\draw[ln] (temp) -- (l_incid); \draw[ar] (l_incid) -- (etats);
\draw[ln] (temp) -- (l_decdef); \draw[ar] (l_decdef) -- (degre);
\draw[ln] (temp) -- (l_expliq); \draw[ar] (l_expliq) -- (dilat);
\draw[ln] (props) -- (l_q1); \draw[ar] (l_q1) -- (elecem);
\draw[ln] (props) -- (l_q2); \draw[ar] (l_q2) -- (fluides);
\draw[ln] (elecem) -- (l_divise); \draw[ar] (l_divise) -- (elec); \draw[ar] (l_divise) -- (magn);
\draw[ln] (elec) -- (l_caract); \draw[ar] (l_caract) -- (charge);
\draw[ln] (charge) -- (l_decr9); \draw[ar] (l_decr9) -- (compch);
\draw[ln] (matiere) -- (l_def8); \draw[ar] (l_def8) -- (props);
% electricity
\draw[ln] (charge) -- (l_assoc4); \draw[ar] (l_assoc4) -- (partic);
\draw[ln] (partic) -- (l_stat); \draw[ar] (l_stat) -- (estat);
\draw[ln] (partic) -- (l_dyn); \draw[line width=1.5pt] (l_dyn) -- (edyn); \draw[ar] (l_dyn) -- (nbch); \draw[ar] (l_dyn) -- (quant);
\draw[ln] (nbch) -- (l_expl6); \draw[ar] (l_expl6) -- (repart);
\draw[ln] (quant) -- (l_expl7); \draw[ar] (l_expl7) -- (repart);
\draw[ln] (estat) -- (l_repr2); \draw[ar] (l_repr2) -- (champ);
\draw[ln] (estat) -- (l_appl); \draw[ar] (l_appl) -- (coul);
\draw[ln] (repart) -- (l_decapp); \draw[ar] (l_decapp) -- (ohm);
\draw[ln] (repart) -- (l_det3); \draw[ar] (l_det3) -- (resist);
\draw[ln] (repart) -- (l_decrep); \draw[ar] (l_decrep) -- (circ);
\draw[ln] (repart) -- (l_det4); \draw[ar] (l_det4) -- (kirch);
\draw[ln] (repart) -- (l_appdec); \draw[ar] (l_appdec) -- (relpe);
% finalities
\draw[ln] (fsci) -- (l_amene); \draw[ar] (l_amene) -- (fprog);
\draw[ln] (fsci) -- (l_q3); \draw[ln] (trouv) -- (l_q3); \draw[ln] (cexp) -- (l_q3); \draw[ar] (l_q3) -- (acq); \draw[ar] (l_q3) -- (cmod);
\draw[ln] (acq) -- (l_q4); \draw[ln] (l_q4) -- (univ);
\draw[ln] (trouv) -- (l_q5); \draw[ln] (l_q5) -- (univ);
\draw[ln] (cexp) -- (l_q6); \draw[ln] (l_q6) -- (univ);
\draw[ln] (cmod) -- (l_q7); \draw[ln] (l_q7) -- (univ);
\draw[ln] (univ) -- (l_q8); \draw[ar] (l_q8) -- (emonde);
\draw[ln] (emonde) -- (l_q9); \draw[ar] (l_q9) -- (ondes);
\draw[ln] (emonde) -- (l_q10); \draw[ar] (l_q10) -- (matiere);
\draw[ln] (matiere) -- (l_q11); \draw[ar] (l_q11) -- (org);
\draw[ln] (mhh) -- (l_q12); \draw[ar] (l_q12) -- (melanges);
\draw[ln] (matiere) -- (l_q13); \draw[ar] (l_q13) -- (transf);
% transformation
\draw[ln] (transf) -- (l_diff1); \draw[ar] (l_diff1) -- (tnuc); \draw[ar] (l_diff1) -- (tmat); \draw[ln] (l_diff1) -- (tener); \draw[ar] (l_diff1) -- (tphys); \draw[ar] (l_diff1) -- (tchim);
\draw[ln] (fiss) -- (l_compr3); \draw[ar] (l_compr3) -- (tnuc);
\draw[ln] (fiss) -- (l_impl2); \draw[ar] (l_impl2) -- (rech);
\draw[ln] (tmat) -- (l_demo1); \draw[ar] (l_demo1) -- (consm);
\draw[ln] (tmat) -- (l_decr10); \draw[ar] (l_decr10) -- (melanges);
\draw[ln] (tmat) -- (l_reco5); \draw[ar] (l_reco5) -- (solutions);
\draw[ln] (tmat) -- (l_util2); \draw[ar] (l_util2) -- (modp);
\draw[ln] (modp) -- (l_pred3); \draw[ar] (l_pred3) -- (compm);
\draw[ln] (tener) -- (l_expl4); \draw[ar] (l_expl4) -- (conse);
\draw[ln] (tener) -- (l_ident2); \draw[ar] (l_ident2) -- (formes);
\draw[ln] (tphys) -- (l_diff2); \draw[ar] (l_diff2) -- (dissol); \draw[ar] (l_diff2) -- (chetat); \draw[ar] (l_diff2) -- (dilution); \draw[ar] (l_diff2) -- (chphys);
\draw[ln] (chetat) -- (l_aide); \draw[ln] (dissol) -- (l_aide); \draw[ar] (l_aide) -- (modp);
\draw[ln] (chetat) -- (l_expl5); \draw[ar] (l_expl5) -- (arrang);
\draw[ln] (chphys) -- (l_demo2); \draw[ar] (l_demo2) -- (chetat);
\draw[ln] (chphys) -- (l_reco6); \draw[ar] (l_reco6) -- (melanges);
\draw[ln] (dilution) -- (l_calc2); \draw[ar] (l_calc2) -- (param);
\draw[ln] (melanges) -- (l_diff3); \draw[ar] (l_diff3) -- (hetero); \draw[ar] (l_diff3) -- (homo);
\draw[ln] (solutions) -- (l_def9); \draw[ar] (l_def9) -- (homo);
\draw[ln] (hetero) -- (l_recod); \draw[ln] (homo) -- (l_recod); \draw[ar] (l_recod) -- (techn);
\draw[ln] (techn) -- (l_conc); \draw[ar] (l_conc) -- (appl);
% chemical transformation
\draw[ln] (tchim) -- (l_reco7); \draw[ar] (l_reco7) -- (rendo);
\draw[ln] (tchim) -- (l_effe1); \draw[ar] (l_effe1) -- (balan);
\draw[ln] (tchim) -- (l_q14); \draw[ar] (l_q14) -- (sels);
\draw[ln] (tchim) -- (l_q15); \draw[ar] (l_q15) -- (neutr);
\draw[ln] (tchim) -- (l_reco8); \draw[ar] (l_reco8) -- (combu);
\draw[ln] (tchim) -- (l_def10); \draw[ar] (l_def10) -- (preci);
\draw[ln] (tchim) -- (l_reco9); \draw[ar] (l_reco9) -- (oxyd);
\draw[ln] (tchim) -- (l_impl6); \draw[ar] (l_impl6) -- (decsyn);
\draw[ln] (tchim) -- (l_def11); \draw[ar] (l_def11) -- (uchg);
\draw[ln] (tchim) -- (l_effe2); \draw[ar] (l_effe2) -- (stoe);
\draw[ln] (rendo) -- (l_sedist2); \draw[ar] (l_sedist2) -- (percep);
\draw[ln] (balan) -- (l_sequi); \draw[ar] (l_sequi) -- (coef);
\draw[ln] (sels) -- (l_serep); \draw[ar] (l_serep) -- (formc);
\draw[ln] (neutr) -- (l_impl4); \draw[ar] (l_impl4) -- (inter);
\draw[ln] (inter) -- (l_prod); \draw[ar] (l_prod) -- (effet);
\draw[ln] (combu) -- (l_impl5); \draw[ar] (l_impl5) -- (reacd);
\draw[ln] (preci) -- (l_sexp); \draw[ar] (l_sexp) -- (assoc);
\draw[ln] (oxyd) -- (l_impl7); \draw[ar] (l_impl7) -- (phen);
\draw[ln] (decsyn) -- (l_impl8); \draw[ar] (l_impl8) -- (connr);
\draw[ln] (uchg) -- (l_manif); \draw[ar] (l_manif) -- (fprec);
\draw[ln] (fprec) -- (l_sexpp); \draw[ar] (l_sexpp) -- (modif);
\draw[ln] (modif) -- (l_setrad); \draw[ar] (l_setrad) -- (difft);
\draw[ln] (difft) -- (l_ilimp); \draw[ar] (l_ilimp) -- (egal);
\draw[ln] (connr) -- (l_ident4); \draw[ar] (l_ident4) -- (reacc);
\draw[ln] (reacc) -- (l_permet); \draw[ar] (l_permet) -- (decomp2);
\draw[ln] (stoe) -- (l_secalc); \draw[ar] (l_secalc) -- (rapm);
\draw[ln] (rapm) -- (l_impl3); \draw[ar] (l_impl3) -- (pred);
\end{pgfonlayer}
\end{tikzpicture}
\end{document}
